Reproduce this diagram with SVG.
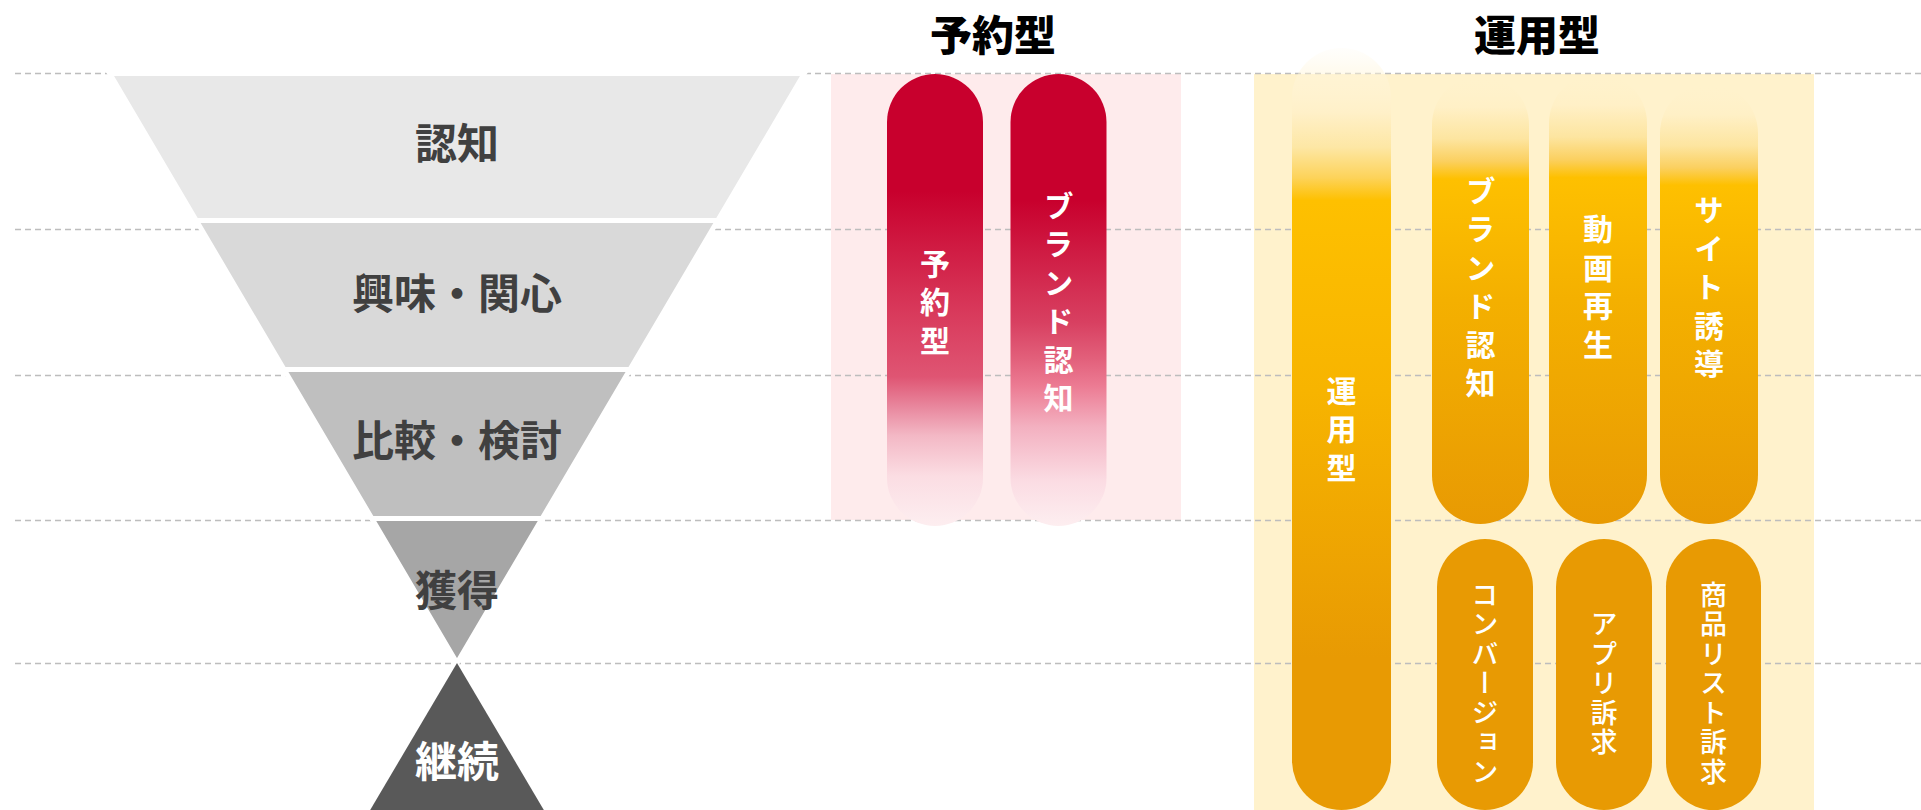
<svg xmlns="http://www.w3.org/2000/svg" width="1921" height="810" viewBox="0 0 1921 810">
<style>
.dash{stroke:#bdbdbd;stroke-width:1.4;stroke-dasharray:6 4;fill:none}
.fun{stroke:#ffffff;stroke-width:5;stroke-linejoin:miter}
.flab{font-family:"Noto Sans CJK JP","Noto Sans CJK SC",sans-serif;font-weight:700;font-size:42px;fill:#404040;text-anchor:middle;dominant-baseline:central}
.title{font-family:"Noto Sans CJK JP","Noto Sans CJK SC",sans-serif;font-weight:900;font-size:42px;fill:#000;text-anchor:middle;dominant-baseline:central}
.vlab{font-family:"Noto Sans CJK JP","Noto Sans CJK SC",sans-serif;font-weight:700;font-size:30px;fill:#fff;text-anchor:middle;writing-mode:vertical-rl;letter-spacing:8.5px}
.vlab2{font-family:"Noto Sans CJK JP","Noto Sans CJK SC",sans-serif;font-weight:500;font-size:27px;fill:#fff;text-anchor:middle;writing-mode:vertical-rl;letter-spacing:2.5px}
</style>
<defs>
<linearGradient id="red1" x1="0" y1="0" x2="0" y2="1">
<stop offset="0" stop-color="#c8002d"/>
<stop offset="0.26" stop-color="#c8002d"/>
<stop offset="0.52" stop-color="#d8385a"/>
<stop offset="0.67" stop-color="#df5573"/>
<stop offset="0.74" stop-color="#e98aa0"/>
<stop offset="0.8" stop-color="#f3b8c5"/>
<stop offset="0.89" stop-color="#fbdde3"/>
<stop offset="1" stop-color="#fdeef0"/>
</linearGradient>
<linearGradient id="red2" x1="0" y1="0" x2="0" y2="1">
<stop offset="0" stop-color="#c8002d"/>
<stop offset="0.28" stop-color="#c8002d"/>
<stop offset="0.55" stop-color="#d84061"/>
<stop offset="0.63" stop-color="#e2607b"/>
<stop offset="0.69" stop-color="#ec7b93"/>
<stop offset="0.78" stop-color="#f3b0c0"/>
<stop offset="0.9" stop-color="#fbdce3"/>
<stop offset="1" stop-color="#fdeef0"/>
</linearGradient>
<linearGradient id="ylong" x1="0" y1="0" x2="0" y2="1">
<stop offset="0" stop-color="#fff8e6" stop-opacity="0.15"/>
<stop offset="0.085" stop-color="#fff0c8"/>
<stop offset="0.13" stop-color="#fde7a5"/>
<stop offset="0.17" stop-color="#fdd35a"/>
<stop offset="0.2" stop-color="#fec000"/>
<stop offset="0.45" stop-color="#f7b400"/>
<stop offset="0.8" stop-color="#e89a03"/>
<stop offset="1" stop-color="#e89a03"/>
</linearGradient>
<linearGradient id="yup" x1="0" y1="0" x2="0" y2="1">
<stop offset="0" stop-color="#fff2cc" stop-opacity="0"/>
<stop offset="0.07" stop-color="#fff0c6"/>
<stop offset="0.14" stop-color="#fde5a0"/>
<stop offset="0.19" stop-color="#fbd060"/>
<stop offset="0.23" stop-color="#fec000"/>
<stop offset="0.5" stop-color="#f4b000"/>
<stop offset="1" stop-color="#e89a03"/>
</linearGradient>
</defs>
<rect width="1921" height="810" fill="#ffffff"/>
<g id="backgrounds">
<rect x="831" y="74" width="350" height="446" fill="#feebec"/>
<rect x="1254" y="74" width="560" height="736" fill="#fff2cc"/>
</g>
<g id="connectors">
<line class="dash" x1="15" y1="73.5" x2="1921" y2="73.5"/>
<line class="dash" x1="15" y1="229.5" x2="1921" y2="229.5"/>
<line class="dash" x1="15" y1="375.5" x2="1921" y2="375.5"/>
<line class="dash" x1="15" y1="520.5" x2="1921" y2="520.5"/>
<line class="dash" x1="15" y1="663.5" x2="1921" y2="663.5"/>
</g>
<g id="funnel-ninchi">
<polygon class="fun" fill="#e8e8e8" points="109.7,73.5 804.3,73.5 717.7,220.5 196.3,220.5"/>
<text class="flab" x="457" y="140">認知</text>
</g>
<g id="funnel-kyomi">
<polygon class="fun" fill="#d9d9d9" points="196.3,220.5 717.7,220.5 629.9,369.5 284.1,369.5"/>
<text class="flab" x="457" y="290">興味・関心</text>
</g>
<g id="funnel-hikaku">
<polygon class="fun" fill="#bfbfbf" points="284.1,369.5 629.9,369.5 542.1,518.5 371.9,518.5"/>
<text class="flab" x="457" y="437">比較・検討</text>
</g>
<g id="funnel-kakutoku">
<polygon class="fun" fill="#a6a6a6" points="371.9,518.5 542.1,518.5 457,663"/>
<text class="flab" x="457" y="587">獲得</text>
</g>
<g id="funnel-keizoku">
<polygon fill="#595959" points="457,663 545,812 369,812"/>
<text class="flab" x="457" y="758" style="fill:#ffffff">継続</text>
</g>
<g id="title-yoyaku">
<text class="title" x="993" y="32">予約型</text>
</g>
<g id="title-unyo">
<text class="title" x="1537" y="32">運用型</text>
</g>
<g id="red-yoyaku">
<rect x="887" y="74" width="96" height="452" rx="48" fill="url(#red1)"/>
<text class="vlab" x="935" y="306">予約型</text>
</g>
<g id="red-brand">
<rect x="1010.5" y="74" width="96" height="452" rx="48" fill="url(#red2)"/>
<text class="vlab" x="1058.5" y="306">ブランド認知</text>
</g>
<g id="y-unyo">
<rect x="1292" y="48" width="99" height="762" rx="49.5" fill="url(#ylong)"/>
<text class="vlab" x="1341.5" y="433">運用型</text>
</g>
<g id="y-brand">
<rect x="1432" y="76" width="97" height="448" rx="48.5" fill="url(#yup)"/>
<text class="vlab" x="1480.5" y="291">ブランド認知</text>
</g>
<g id="y-douga">
<rect x="1549" y="74" width="98" height="450" rx="49" fill="url(#yup)"/>
<text class="vlab" x="1598" y="291">動画再生</text>
</g>
<g id="y-site">
<rect x="1660" y="84" width="98" height="440" rx="49" fill="url(#yup)"/>
<text class="vlab" x="1709" y="291">サイト誘導</text>
</g>
<g id="y-cv">
<rect x="1437" y="539" width="96" height="271" rx="48" fill="#e89a03"/>
<text class="vlab2" x="1485" y="684">コンバージョン</text>
</g>
<g id="y-app">
<rect x="1556" y="539" width="96" height="271" rx="48" fill="#e89a03"/>
<text class="vlab2" x="1604" y="684">アプリ訴求</text>
</g>
<g id="y-shohin">
<rect x="1666" y="539" width="95" height="271" rx="47.5" fill="#e89a03"/>
<text class="vlab2" x="1713.5" y="684">商品リスト訴求</text>
</g>
</svg>
